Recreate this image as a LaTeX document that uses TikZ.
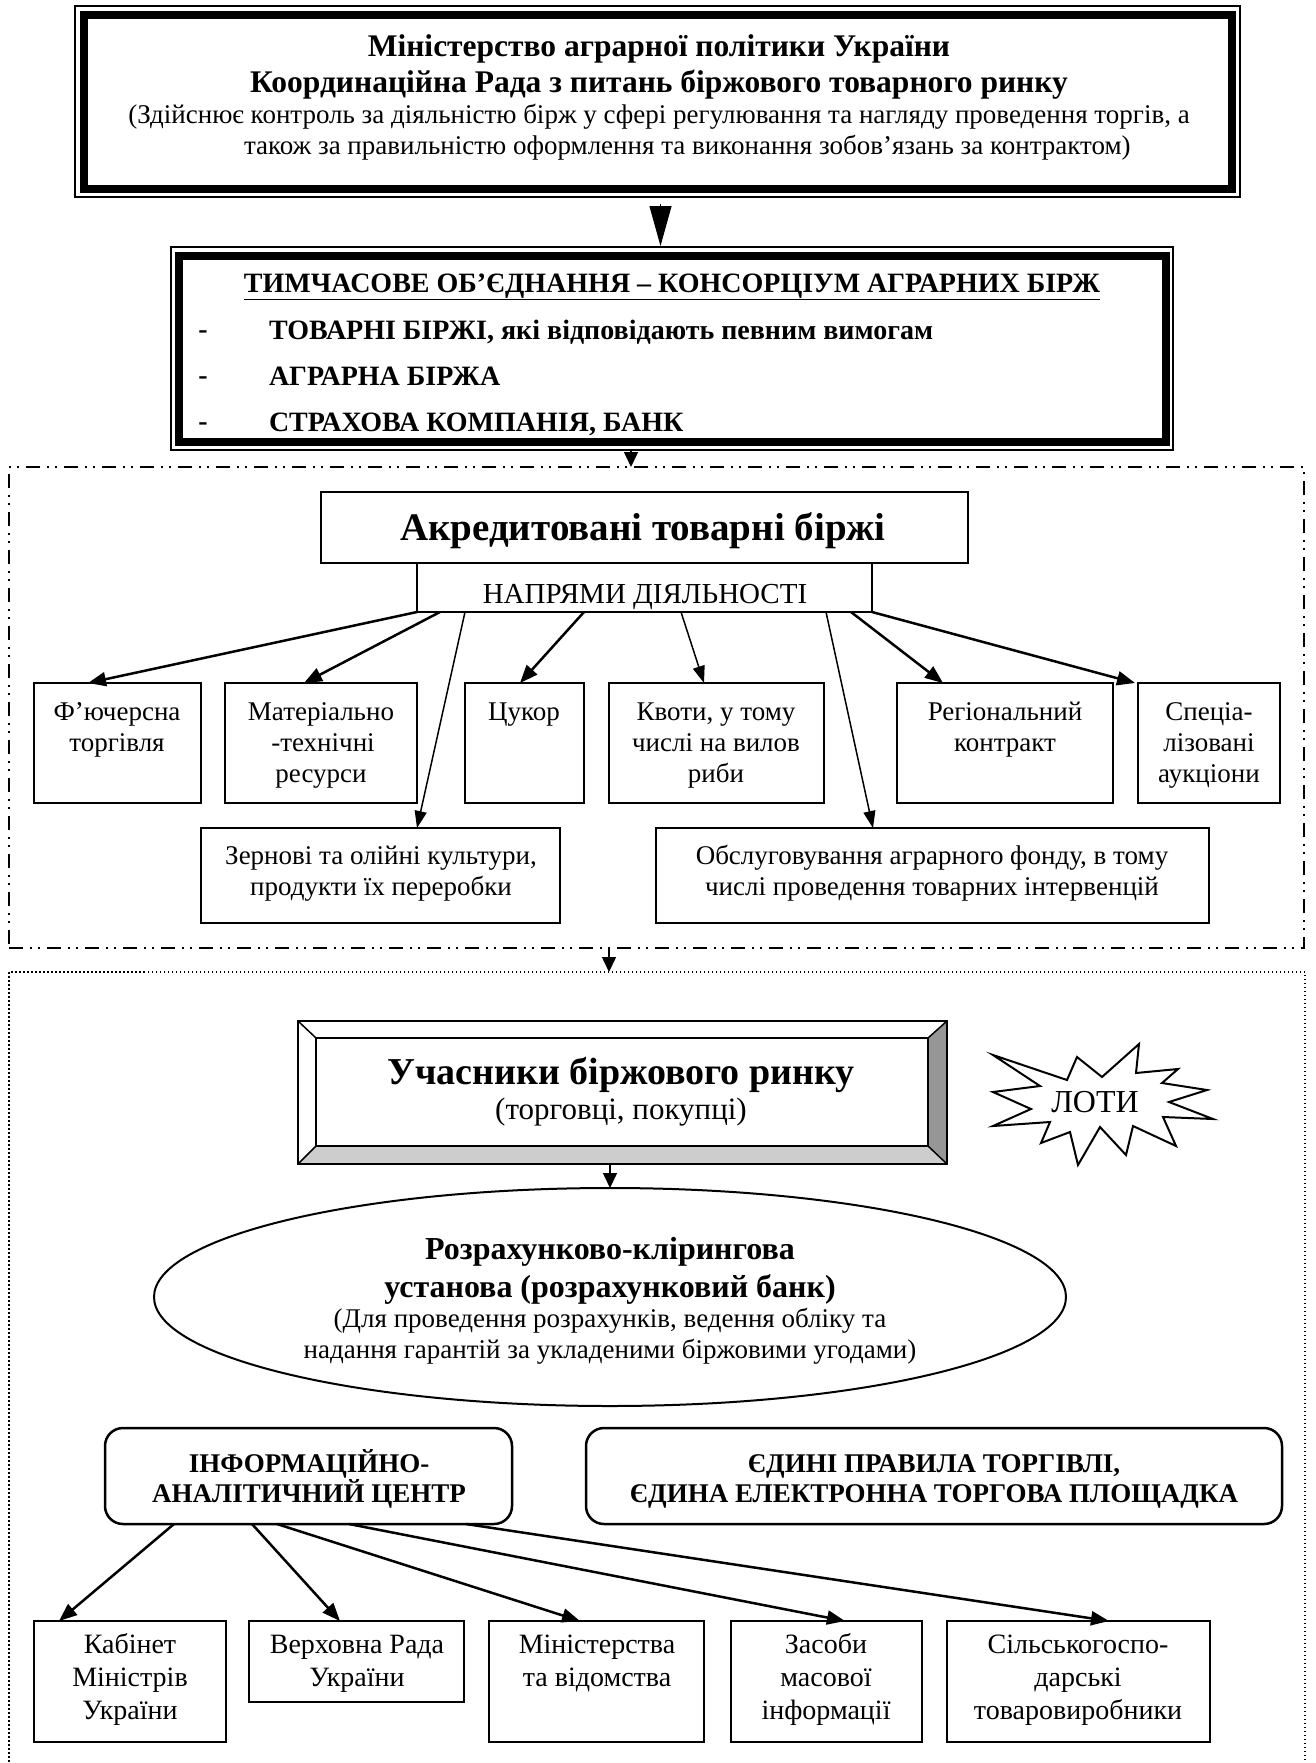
\documentclass[tikz,border=0pt]{standalone}
\usepackage{fontspec}
\setmainfont{Liberation Serif}
\usetikzlibrary{arrows.meta,shapes.geometric,calc}

\definecolor{bevelR}{RGB}{150,150,150}
\definecolor{bevelB}{RGB}{205,205,205}

% box given by its corners (x1,y1) (x2,y2), y pointing down
\newcommand\mkbox[6][]{%
  \node[box,#1,minimum width={(#5)-(#3)},minimum height={(#6)-(#4)}] (#2)
    at ({((#3)+(#5))/2},{((#4)+(#6))/2}) {};}

\tikzset{
  box/.style={draw, line width=2pt, inner sep=0pt, outer sep=0pt},
  t/.style={inner sep=0pt, outer sep=0pt, anchor=mid, yshift=-4.5pt,
    font=\fontsize{27}{32}\selectfont},
  tl/.style={t, font=\fontsize{28}{33}\selectfont},
  tcap/.style={t, yshift=-1pt, font=\fontsize{29}{34}\selectfont},
  tb/.style={t, yshift=-1.5pt, font=\fontsize{28}{33}\selectfont\bfseries},
  tbs/.style={t, yshift=-1pt, font=\fontsize{27}{32}\selectfont\bfseries},
  ttitle/.style={t, yshift=-2.5pt, font=\fontsize{31.5}{37}\selectfont\bfseries},
  tbig/.style={t, yshift=-4.5pt, font=\fontsize{39}{46}\selectfont\bfseries},
  arr/.style={line width=2.5pt, -{Triangle[length=18pt,width=14pt]}},
  arrthin/.style={line width=1.5pt, -{Triangle[length=17pt,width=12pt]}},
  smarr/.style={line width=1.5pt, -{Triangle[length=15pt,width=14pt]}},
  bigarr/.style={line width=1pt, -{Triangle[length=40pt,width=22pt]}},
  dashdotframe/.style={draw, line width=1.5pt,
    dash pattern=on 14pt off 7pt on 2pt off 6pt on 2pt off 7pt},
  dotframe/.style={draw, line width=1.3pt, dash pattern=on 1.5pt off 2.5pt},
  rbox/.style={rounded corners=18pt, line width=2.5pt},
}

\begin{document}
\begin{tikzpicture}[x=1pt,y=-1pt]
\useasboundingbox (0,0) rectangle (1316,1763);
\fill[white] (0,0) rectangle (1316,1763);
\clip (0,0) rectangle (1316,1763);

% ---------- ministry ----------
\mkbox[line width=1.5pt]{min}{75}{6}{1240}{197}
\draw[line width=8pt] ([shift={(9,9)}]min.north west) rectangle ([shift={(-8,-8)}]min.south east);
\node[ttitle] (minA) at (659,47) {Міністерство аграрної політики України};
\node[ttitle] (minB) at (659,83) {Координаційна Рада з питань біржового товарного ринку};
\node[t] (minC) at (659,117) {(Здійснює контроль за діяльністю бірж у сфері регулювання та нагляду проведення торгів, а};
\node[t, anchor=mid west] (minD) at (244,148) {також за правильністю оформлення та виконання зобов’язань за контрактом)};

% ---------- consortium ----------
\mkbox[line width=1.5pt]{cons}{171}{247}{1173}{450}
\draw[line width=8pt] ([shift={(8,9)}]cons.north west) rectangle ([shift={(-7,-8.5)}]cons.south east);
\draw[bigarr, shorten <=7pt, shorten >=1pt] ([xshift=3pt]min.south) -- ([xshift=3pt]min.south |- cons.north);
\node[tb] (consH) at (672,284) {\underline{ТИМЧАСОВЕ ОБ’ЄДНАННЯ – КОНСОРЦІУМ АГРАРНИХ БІРЖ}};
\node[tb] (dashA) at (203,330) {-};
\node[tb] (dashB) at (203,376) {-};
\node[tb] (dashC) at (203,422) {-};
\node[tb, anchor=mid west] (itemA) at (269,331) {ТОВАРНІ БІРЖІ, які відповідають певним вимогам};
\node[tb, anchor=mid west] (itemB) at (269,377) {АГРАРНА БІРЖА};
\node[tb, anchor=mid west] (itemC) at (269,423) {СТРАХОВА КОМПАНІЯ, БАНК};

% ---------- accredited exchanges ----------
\mkbox[dashdotframe, line width=1.5pt]{frameA}{9}{467}{1304}{948}
\draw[smarr] ([xshift=-41pt]cons.south) -- ([xshift=-41pt]cons.south |- frameA.north);

\mkbox{akr}{321}{492}{968}{563}
\node[tbig] (akrT) at (643,529) {Акредитовані товарні біржі};
\mkbox{napr}{417}{563}{872}{612}
\node[tcap] (naprT) at (645,596) {НАПРЯМИ ДІЯЛЬНОСТІ};

\mkbox{fut}{34}{683}{201}{803}
\mkbox{mat}{225}{683}{417}{803}
\mkbox{tsuk}{465}{683}{584}{803}
\mkbox{kvot}{609}{683}{824}{803}
\mkbox{reg}{897}{683}{1113}{803}
\mkbox{spec}{1138}{683}{1280}{803}
\mkbox{zern}{201}{828}{560}{923}
\mkbox{obsl}{656}{828}{1209}{923}

\node[t] (futA) at (117,714) {Ф’ючерсна};
\node[t] (futB) at (117,745) {торгівля};
\node[t] (matA) at (321,714) {Матеріально};
\node[t] (matB) at (323,745) {-технічні};
\node[t] (matC) at (321,776) {ресурси};
\node[t] (tsukA) at (524,714) {Цукор};
\node[t] (kvotA) at (716,714) {Квоти, у тому};
\node[t] (kvotB) at (716,745) {числі на вилов};
\node[t] (kvotC) at (716,776) {риби};
\node[t] (regA) at (1005,714) {Регіональний};
\node[t] (regB) at (1005,745) {контракт};
\node[t] (specA) at (1209,714) {Спеціа-};
\node[t] (specB) at (1209,745) {лізовані};
\node[t] (specC) at (1209,776) {аукціони};
\node[t] (zernA) at (381,858) {Зернові та олійні культури,};
\node[t] (zernB) at (381,889) {продукти їх переробки};
\node[t] (obslA) at (932,858) {Обслуговування аграрного фонду, в тому};
\node[t] (obslB) at (932,889) {числі проведення товарних інтервенцій};

\draw[arr] (napr.south west) -- ([xshift=54pt]fut.north west);
\draw[arr] ([xshift=23pt]napr.south west) -- ([xshift=79pt]mat.north west);
\draw[arrthin] ([xshift=48pt]napr.south west) -- ([xshift=216pt]zern.north west);
\draw[arr] ([xshift=167pt]napr.south west) -- ([xshift=55pt]tsuk.north west);
\draw[arrthin] ([xshift=264pt]napr.south west) -- ([xshift=95pt]kvot.north west);
\draw[arrthin] ([xshift=409pt]napr.south west) -- ([xshift=217pt]obsl.north west);
\draw[arr] ([xshift=434pt]napr.south west) -- ([xshift=46pt]reg.north west);
\draw[arr] (napr.south east) -- ([xshift=-3pt]spec.north west);

% ---------- market participants ----------
\mkbox[dotframe, line width=1.3pt]{frameB}{9}{972}{1305}{1800}
\draw[smarr] ([xshift=-47.5pt]frameA.south) -- ([xshift=-47.5pt]frameA.south |- frameB.north);

\mkbox[draw=none]{uch}{298}{1021}{947}{1164}
\coordinate (uiNW) at ([shift={(18,17)}]uch.north west);
\coordinate (uiNE) at ([shift={(-19,17)}]uch.north east);
\coordinate (uiSE) at ([shift={(-19,-18)}]uch.south east);
\coordinate (uiSW) at ([shift={(18,-18)}]uch.south west);
\fill[bevelB] (uch.south west) -- (uch.south east) -- (uiSE) -- (uiSW) -- cycle;
\fill[bevelR] (uch.north east) -- (uch.south east) -- (uiSE) -- (uiNE) -- cycle;
\draw[line width=2pt] (uch.north west) rectangle (uch.south east);
\draw[line width=2pt] (uiNW) rectangle (uiSE);
\draw[line width=1.5pt] (uch.north west) -- (uiNW) (uch.north east) -- (uiNE)
  (uch.south east) -- (uiSE) (uch.south west) -- (uiSW);
\node[tbig, font=\fontsize{38}{45}\selectfont\bfseries] (uchA) at (621,1073) {Учасники біржового ринку};
\node[t, yshift=-1pt, font=\fontsize{31}{36}\selectfont] (uchB) at (621,1112) {(торговці, покупці)};

% lots burst
\draw[line width=2pt, line join=miter] (993,1055) -- (1067,1080) -- (1077,1057) -- (1102,1077)
  -- (1139,1044) -- (1136,1073) -- (1178,1069) -- (1162,1083) -- (1207,1090)
  -- (1169,1102) -- (1213,1119) -- (1163,1117) -- (1176,1146) -- (1133,1126)
  -- (1126,1155) -- (1100,1127) -- (1078,1165) -- (1070,1132) -- (1041,1143)
  -- (1050,1122) -- (993,1126) -- (1031,1109) -- (993,1092) -- (1040,1086) -- cycle;
\node[t, yshift=-1.5pt, font=\fontsize{32}{38}\selectfont] (lots) at (1095,1104) {ЛОТИ};

% clearing house
\node[draw, ellipse, line width=2pt, inner sep=0pt, outer sep=0pt,
  minimum width=912pt, minimum height=218pt] (rkb) at (610,1297) {};
\draw[smarr] (uch.south -| rkb.north) -- (rkb.north);
\node[ttitle, font=\fontsize{32}{38}\selectfont\bfseries] (rkbA) at (610,1250) {Розрахунково-клірингова};
\node[ttitle, font=\fontsize{32}{38}\selectfont\bfseries] (rkbB) at (610,1288) {установа (розрахунковий банк)};
\node[t] (rkbC) at (610,1321) {(Для проведення розрахунків, ведення обліку та};
\node[t] (rkbD) at (610,1352) {надання гарантій за укладеними біржовими угодами)};

% information centre and trading rules
\mkbox[rbox]{info}{105}{1428}{512}{1524}
\node[tbs] (infoA) at (309,1465) {ІНФОРМАЦІЙНО-};
\node[tbs] (infoB) at (309,1495) {АНАЛІТИЧНИЙ ЦЕНТР};
\mkbox[rbox]{rules}{586}{1428}{1282}{1524}
\node[tbs] (rulesA) at (934,1465) {ЄДИНІ ПРАВИЛА ТОРГІВЛІ,};
\node[tbs] (rulesB) at (934,1495) {ЄДИНА ЕЛЕКТРОННА ТОРГОВА ПЛОЩАДКА};

% recipients of information
\mkbox{kab}{34}{1621}{226}{1742}
\mkbox{verkh}{249}{1621}{464}{1702}
\mkbox{mins}{489}{1621}{704}{1742}
\mkbox{zmi}{731}{1621}{922}{1742}
\mkbox{sil}{947}{1621}{1210}{1742}
\node[tl] (kabA) at (130,1647) {Кабінет};
\node[tl] (kabB) at (130,1680) {Міністрів};
\node[tl] (kabC) at (130,1713) {України};
\node[tl] (verkhA) at (357,1647) {Верховна Рада};
\node[tl] (verkhB) at (357,1680) {України};
\node[tl] (minsA) at (597,1647) {Міністерства};
\node[tl] (minsB) at (597,1680) {та відомства};
\node[tl] (zmiA) at (826,1647) {Засоби};
\node[tl] (zmiB) at (826,1680) {масової};
\node[tl] (zmiC) at (826,1713) {інформації};
\node[tl] (silA) at (1078,1647) {Сільськогоспо-};
\node[tl] (silB) at (1078,1680) {дарські};
\node[tl] (silC) at (1078,1713) {товаровиробники};

\draw[arr] ([xshift=69pt]info.south west) -- ([xshift=25pt]kab.north west);
\draw[arr] ([xshift=147pt]info.south west) -- ([xshift=91pt]verkh.north west);
\draw[arr] ([xshift=172pt]info.south west) -- ([xshift=91pt]mins.north west);
\draw[arr] ([xshift=244pt]info.south west) -- ([xshift=114pt]zmi.north west);
\draw[arr] ([xshift=361pt]info.south west) -- ([xshift=162pt]sil.north west);
\end{tikzpicture}
\end{document}
